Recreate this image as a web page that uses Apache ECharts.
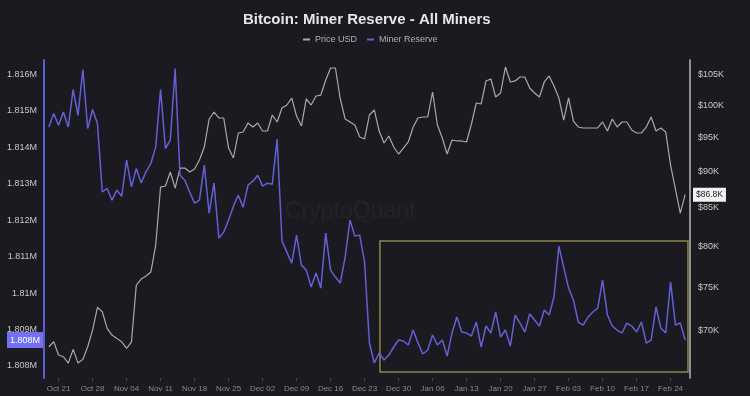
<!DOCTYPE html>
<html><head><meta charset="utf-8">
<script src="https://cdn.jsdelivr.net/npm/echarts@6/dist/echarts.min.js"></script>
<style>html,body{margin:0;padding:0;background:#1b1a20}#c{width:750px;height:396px}</style>
</head><body><div id="c"></div>
<script>
// ---- data ----
const firstDay = '2024-10-19';           // daily series start (UTC)
const minerReserve = [
 1814557,1814924,1814603,1814968,1814557,1815582,1814877,1816130,1814513,1815034,
 1814650,1812776,1812869,1812548,1812822,1812658,1813644,1812913,1813417,1813022,
 1813324,1813554,1814009,1815582,1813965,1814192,1816157,1813233,1813096,1812768,
 1812466,1812548,1813507,1812192,1813014,1811507,1811672,1812000,1812384,1812685,
 1812357,1812959,1813069,1813233,1812932,1813014,1812987,1814220,1811425,1811124,
 1810822,1811589,1810767,1810630,1810165,1810548,1810137,1811644,1810630,1810439,
 1810274,1810987,1812000,1811562,1811589,1810850,1808630,1808082,1808356,1808164,
 1808301,1808521,1808712,1808685,1808575,1808986,1808630,1808329,1808438,1808849,
 1808575,1808712,1808274,1808904,1809343,1808932,1808904,1808822,1809206,1808521,
 1809096,1808904,1809480,1808795,1808986,1808548,1809397,1809178,1808932,1809425,
 1809260,1809096,1809534,1809397,1809891,1811288,1810713,1810137,1809808,1809206,
 1809123,1809343,1809480,1809589,1810356,1809397,1809096,1808986,1808904,1809178,
 1809096,1808932,1809206,1808630,1808712,1809617,1809041,1808904,1810302,1809123,
 1809178,1808712
];
const priceUSD = [
 68240,68780,67350,67170,66500,67960,66500,66890,68240,70060,
 72620,72120,70250,69510,69150,68780,68060,68740,75230,75950,
 76310,76800,80150,87850,87990,89960,87710,90530,90530,89960,
 90390,91690,93590,97830,98920,97990,97990,93440,91980,95690,
 95840,97210,96600,97210,95990,95990,98450,97370,99550,100020,
 101140,98290,96760,100980,100020,101450,101610,104060,106050,106050,
 100980,97830,97370,96910,95090,94790,98450,99240,95990,94190,
 95240,93590,92560,93440,94340,96600,97990,98140,98140,102100,
 96910,94940,92560,94640,94490,94490,94340,97060,100340,100180,
 103900,104220,101290,101940,106220,103730,103900,104550,104550,102750,
 101940,101290,103730,104720,103080,101140,97670,101140,97520,96600,
 96450,96450,96450,96450,97370,95990,97830,96600,97370,97370,
 96140,95690,95690,96600,98140,95990,96450,95840,90960,87570,
 84310,86800
];
const xTickDates = ['2024-10-21','2024-10-28','2024-11-04','2024-11-11','2024-11-18','2024-11-25',
 '2024-12-02','2024-12-09','2024-12-16','2024-12-23','2024-12-30','2025-01-06','2025-01-13',
 '2025-01-20','2025-01-27','2025-02-03','2025-02-10','2025-02-17','2025-02-24'];
const leftTicks = [1808000,1809000,1810000,1811000,1812000,1813000,1814000,1815000,1816000];
const rightTicks = [70000,75000,80000,85000,90000,95000,100000,105000];
const highlightBox = { from: '2024-12-26T04:00:00Z', to: '2025-02-27T14:00:00Z', top: 1811425, bottom: 1807836 };

// ---- build ----
const DAY = 86400000;
const t0 = Date.parse(firstDay);
const dates = minerReserve.map((_, i) => t0 + i * DAY);
const reserveData = dates.map((t, i) => [t, minerReserve[i]]);
const priceData = dates.map((t, i) => [t, priceUSD[i]]);
const xTicks = xTickDates.map(s => Date.parse(s));
const MON = ['Jan','Feb','Mar','Apr','May','Jun','Jul','Aug','Sep','Oct','Nov','Dec'];
const fmtDate = v => { const d = new Date(v); return MON[d.getUTCMonth()] + ' ' + String(d.getUTCDate()).padStart(2, '0'); };
const fmtM = v => parseFloat((v / 1e6).toFixed(3)) + 'M';
const lastRes = minerReserve[minerReserve.length - 1];
const lastPrice = priceUSD[priceUSD.length - 1];
const FONT = 'Liberation Sans, Arial, sans-serif';

const chart = echarts.init(document.getElementById('c'));
chart.setOption({
  backgroundColor: '#1b1a20',
  animation: false,
  textStyle: { fontFamily: FONT },
  title: { text: 'Bitcoin: Miner Reserve - All Miners', left: 238, top: 7,
    textStyle: { color: '#e6e6e6', fontSize: 15, fontWeight: 'bold', fontFamily: FONT } },
  legend: { data: ['Price USD', 'Miner Reserve'], left: 298, top: 30, icon: 'rect',
    itemWidth: 7, itemHeight: 2, itemGap: 10,
    textStyle: { color: '#b0b0b0', fontSize: 9, fontFamily: FONT } },
  graphic: [{ type: 'text', left: 285, top: 200, silent: true,
    style: { text: 'CryptoQuant', fontSize: 23, fontFamily: FONT, fill: 'rgba(255,255,255,0.04)' } }],
  grid: { left: 44, right: 60, top: 60, bottom: 18 },
  xAxis: {
    type: 'value', min: Date.UTC(2024, 9, 18), max: Date.UTC(2025, 1, 28),
    axisLine: { show: false }, splitLine: { show: false },
    axisTick: { show: true, customValues: xTicks, length: 3, lineStyle: { color: '#4a4a52' } },
    axisLabel: { customValues: xTicks, formatter: fmtDate, color: '#8a8a8a', fontSize: 8, margin: 7 }
  },
  yAxis: [
    { type: 'value', position: 'left', min: 1807671, max: 1816392,
      axisLine: { show: true, lineStyle: { color: '#5d5bd8', width: 2 } },
      axisTick: { show: false }, splitLine: { show: false },
      axisLabel: { customValues: leftTicks, formatter: fmtM, color: '#c8c8c8', fontSize: 9, margin: 7 } },
    { type: 'log', logBase: 10, position: 'right', min: 64950, max: 107400,
      axisLine: { show: true, lineStyle: { color: '#b8b8b8', width: 1.5 } },
      axisTick: { show: false }, splitLine: { show: false }, minorTick: { show: false },
      axisLabel: { customValues: rightTicks, formatter: v => '$' + Math.round(v / 1000) + 'K',
        color: '#c8c8c8', fontSize: 9, margin: 8 } }
  ],
  series: [
    { name: 'Price USD', type: 'line', yAxisIndex: 1, data: priceData, showSymbol: false,
      lineStyle: { color: '#a9a9ad', width: 1.2 }, itemStyle: { color: '#a9a9ad' }, z: 2,
      markLine: { silent: true, symbol: 'none', lineStyle: { color: 'transparent', width: 0 },
        data: [{ yAxis: lastPrice }],
        label: { show: true, position: 'end', distance: 3, formatter: () => '$' + (lastPrice / 1000).toFixed(1) + 'K',
          backgroundColor: '#f2f2f2', color: '#222', fontSize: 8.5, padding: [3, 3, 2, 3] } } },
    { name: 'Miner Reserve', type: 'line', yAxisIndex: 0, data: reserveData, showSymbol: false,
      lineStyle: { color: '#6360d6', width: 1.5 }, itemStyle: { color: '#6360d6' }, z: 3,
      markLine: { silent: true, symbol: 'none', lineStyle: { color: 'transparent', width: 0 },
        data: [{ yAxis: lastRes }],
        label: { show: true, position: 'start', distance: 1, formatter: () => (Math.floor(lastRes / 1000) / 1000).toFixed(3) + 'M',
          backgroundColor: '#7370f2', color: '#ffffff', fontSize: 9, padding: [4, 3, 3, 3] } },
      markArea: { silent: true,
        itemStyle: { color: 'rgba(0,0,0,0)', borderColor: '#8d8747', borderWidth: 1.5 },
        data: [[{ xAxis: Date.parse(highlightBox.from), yAxis: highlightBox.top },
                { xAxis: Date.parse(highlightBox.to), yAxis: highlightBox.bottom }]] } }
  ]
});
</script></body></html>
